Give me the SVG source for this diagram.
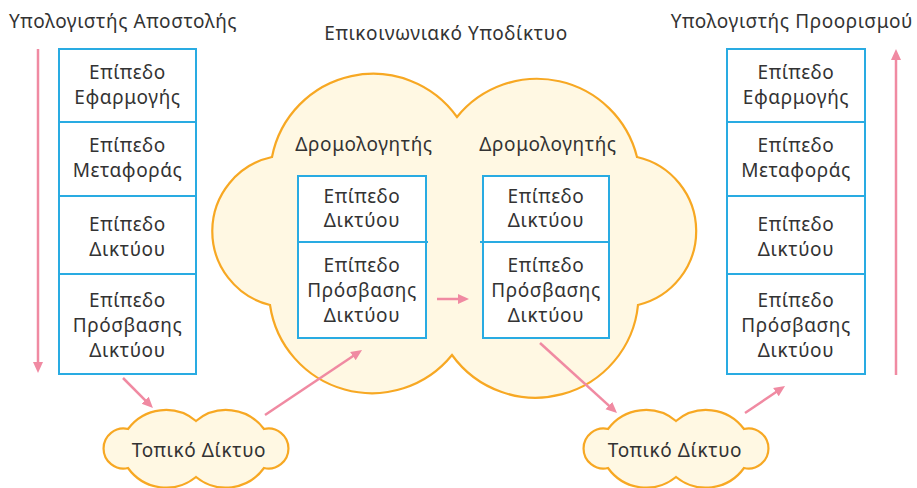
<svg xmlns="http://www.w3.org/2000/svg" width="917" height="488" viewBox="0 0 917 488">
<style>
text{font-family:"Noto Sans","Open Sans","DejaVu Sans",sans-serif;font-size:19px;letter-spacing:0.6px;fill:#333;text-anchor:middle}
.title{text-anchor:start}
.titleR{text-anchor:end}
.box{fill:#fff;stroke:#29ABE2;stroke-width:2}
.div{stroke:#29ABE2;stroke-width:2}
.cloud{fill:#FFF8E3;stroke:#F7A823;stroke-width:2.2}
.arr{stroke:#F08AA2;stroke-width:2.5;fill:none;marker-end:url(#ah)}
</style>
<defs>
<marker id="ah" markerUnits="userSpaceOnUse" markerWidth="12" markerHeight="12" viewBox="0 0 12 12" refX="3" refY="6" orient="auto">
<path d="M0,1 L11,6 L0,11 z" fill="#F08AA2"/>
</marker>
<path id="lan" class="cloud" d="M -68 -20 A 47 47 0 0 1 0 -28 A 47 47 0 0 1 68 -20 A 20 20 0 1 1 68 19 A 47 47 0 0 1 0 28 A 47 47 0 0 1 -68 19 A 20 20 0 1 1 -68 -20 Z"/>
</defs>

<g id="subnet">
<path class="cloud" d="M 272 157 A 103 103 0 0 1 457 117 A 103 103 0 0 1 637 157 A 76 76 0 0 1 638 305 A 103 103 0 0 1 452 355 A 103 103 0 0 1 270 305 A 76 76 0 0 1 272 157 Z"/>
<text x="446" y="40">Επικοινωνιακό Υποδίκτυο</text>
</g>

<g id="sender">
<text class="title" x="9" y="28">Υπολογιστής Αποστολής</text>
<rect class="box" x="59" y="49" width="137" height="325"/>
<line class="div" x1="59" y1="122" x2="196" y2="122"/>
<line class="div" x1="59" y1="196" x2="196" y2="196"/>
<line class="div" x1="59" y1="274" x2="196" y2="274"/>
<text x="127.5" y="79">Επίπεδο</text>
<text x="127.5" y="104">Εφαρμογής</text>
<text x="127.5" y="152">Επίπεδο</text>
<text x="127.5" y="177">Μεταφοράς</text>
<text x="127.5" y="231">Επίπεδο</text>
<text x="127.5" y="256">Δικτύου</text>
<text x="127.5" y="307">Επίπεδο</text>
<text x="127.5" y="332">Πρόσβασης</text>
<text x="127.5" y="357">Δικτύου</text>
</g>

<g id="receiver">
<text class="titleR" x="913" y="28">Υπολογιστής Προορισμού</text>
<rect class="box" x="727" y="49" width="138" height="325"/>
<line class="div" x1="727" y1="122" x2="865" y2="122"/>
<line class="div" x1="727" y1="196" x2="865" y2="196"/>
<line class="div" x1="727" y1="274" x2="865" y2="274"/>
<text x="796" y="79">Επίπεδο</text>
<text x="796" y="104">Εφαρμογής</text>
<text x="796" y="152">Επίπεδο</text>
<text x="796" y="177">Μεταφοράς</text>
<text x="796" y="231">Επίπεδο</text>
<text x="796" y="256">Δικτύου</text>
<text x="796" y="307">Επίπεδο</text>
<text x="796" y="332">Πρόσβασης</text>
<text x="796" y="357">Δικτύου</text>
</g>

<g id="router1">
<text x="364" y="151">Δρομολογητής</text>
<rect class="box" x="298" y="176" width="128" height="162"/>
<line class="div" x1="298" y1="242" x2="428" y2="242"/>
<text x="362" y="203">Επίπεδο</text>
<text x="362" y="227">Δικτύου</text>
<text x="362" y="272">Επίπεδο</text>
<text x="362" y="297">Πρόσβασης</text>
<text x="362" y="322">Δικτύου</text>
</g>

<g id="router2">
<text x="548" y="151">Δρομολογητής</text>
<rect class="box" x="483" y="176" width="126" height="162"/>
<line class="div" x1="480" y1="242" x2="609" y2="242"/>
<text x="546" y="203">Επίπεδο</text>
<text x="546" y="227">Δικτύου</text>
<text x="546" y="272">Επίπεδο</text>
<text x="546" y="297">Πρόσβασης</text>
<text x="546" y="322">Δικτύου</text>
</g>

<g id="lan1">
<use href="#lan" x="196" y="449"/>
<text x="199" y="457">Τοπικό Δίκτυο</text>
</g>

<g id="lan2">
<use href="#lan" x="676" y="449"/>
<text x="675" y="457">Τοπικό Δίκτυο</text>
</g>

<g id="connectors">
<line class="arr" x1="38" y1="49" x2="38" y2="365"/>
<line class="arr" x1="896" y1="375" x2="896" y2="57"/>
<line class="arr" x1="123" y1="378" x2="147.3" y2="402.3"/>
<line class="arr" x1="265" y1="415" x2="355.4" y2="354.5"/>
<line class="arr" x1="437" y1="299" x2="461" y2="299"/>
<line class="arr" x1="540" y1="343" x2="611.1" y2="407.6"/>
<line class="arr" x1="745" y1="413" x2="778.4" y2="390.5"/>
</g>
</svg>
